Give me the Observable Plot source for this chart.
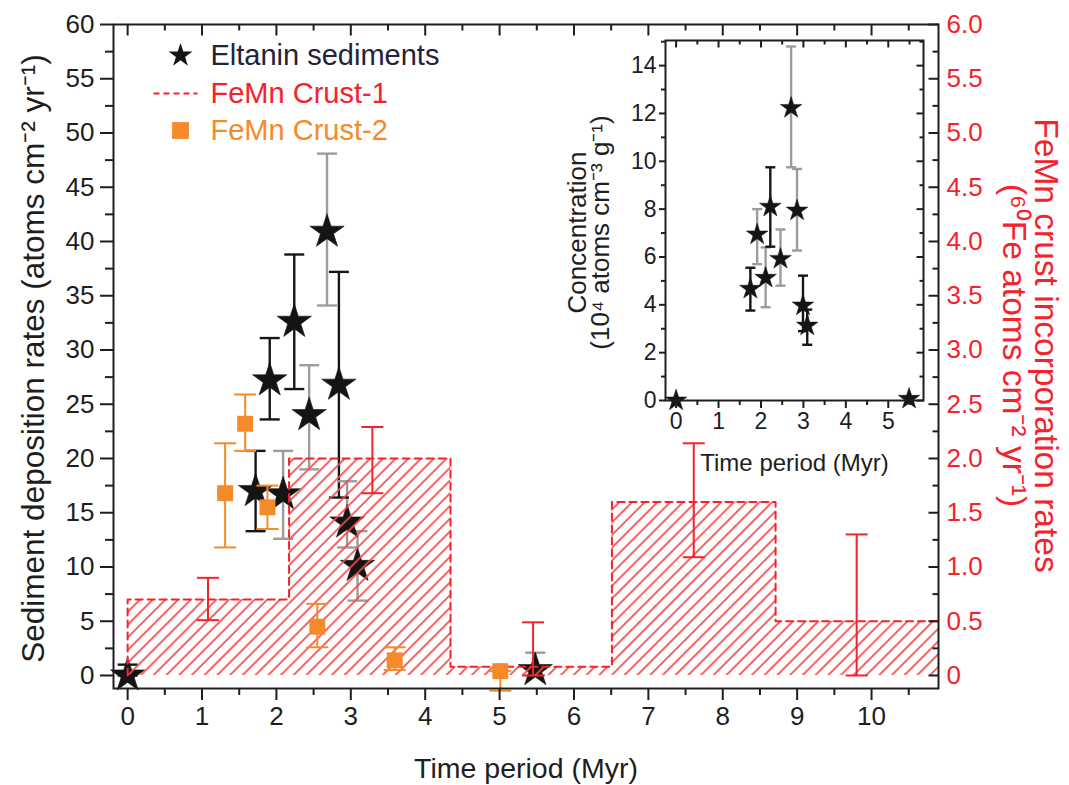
<!DOCTYPE html>
<html>
<head>
<meta charset="utf-8">
<script src="https://cdn.jsdelivr.net/npm/d3@7"></script>
<script src="https://cdn.jsdelivr.net/npm/@observablehq/plot@0.6"></script>
<style>
  html, body { margin: 0; padding: 0; background: #fff; }
  #wrap { position: relative; width: 1069px; height: 785px; overflow: hidden; font-family: "Liberation Sans", Arial, sans-serif; }
  #main, #inset { position: absolute; }
  #main { left: 0; top: 0; }
  #inset { left: 560px; top: 30px; }
</style>
</head>
<body>
<div id="wrap"><div id="main"></div><div id="inset"></div></div>
<script>
// ---------------- DATA ----------------
// Eltanin sediments: deposition rates (atoms cm^-2 yr^-1)
const eltX    = [0, 1.72, 1.91, 2.09, 2.24, 2.44, 2.68, 2.84, 2.95, 3.09, 5.48];
const eltY    = [0, 17.0, 27.2, 16.7, 32.6, 24.0, 40.9, 26.8, 14.1, 10.1, 0.5];
const eltLo   = [0, 13.3, 23.6, 12.6, 26.4, 19.0, 34.1, 16.4, 11.8, 6.9, 0];
const eltHi   = [1.0, 20.7, 31.1, 20.7, 38.8, 28.6, 48.1, 37.2, 17.9, 13.3, 2.1];
const eltTone = ["black","black","black","gray","black","gray","gray","black","gray","gray","gray"];

// FeMn Crust-1: incorporation rates (right axis units), step intervals
const c1Start = [0, 2.17, 4.34, 6.51, 8.71];
const c1End   = [2.17, 4.34, 6.51, 8.71, 10.9];
const c1Rate  = [0.70, 2.00, 0.08, 1.60, 0.50];
const c1ErrX  = [1.08, 3.29, 5.45, 7.61, 9.80];
const c1ErrLo = [0.51, 1.68, 0.00, 1.09, 0.00];
const c1ErrHi = [0.90, 2.29, 0.49, 2.14, 1.30];

// FeMn Crust-2 (left axis units)
const c2X  = [1.31, 1.58, 1.88, 2.55, 3.59, 5.01];
const c2Y  = [16.8, 23.2, 15.5, 4.5, 1.4, 0.4];
const c2Lo = [11.8, 20.7, 13.5, 2.6, 0.5, -1.4];
const c2Hi = [21.4, 25.9, 17.5, 6.6, 2.6, 0.4];

// Inset: concentration (10^4 atoms cm^-3 g^-1)
const insX    = [0, 1.75, 1.91, 2.11, 2.22, 2.46, 2.71, 2.85, 2.99, 3.09, 5.49];
const insY    = [0, 4.67, 6.94, 5.13, 8.10, 5.92, 12.23, 7.94, 3.97, 3.13, 0.07];
const insLo   = [0, 3.76, 5.70, 3.90, 6.43, 4.80, 9.75, 6.27, 2.90, 2.33, 0];
const insHi   = [0, 5.55, 8.00, 6.40, 9.75, 7.15, 14.80, 9.68, 5.22, 3.80, 0];
const insTone = ["black","black","gray","gray","black","gray","gray","gray","black","black","black"];

// Ticks and labels
const mainXTicks = [0,1,2,3,4,5,6,7,8,9,10];
const mainXMinor = [0.5,1.5,2.5,3.5,4.5,5.5,6.5,7.5,8.5,9.5,10.5];
const mainYTicks = [0,5,10,15,20,25,30,35,40,45,50,55,60];
const mainYMinor = [2.5,7.5,12.5,17.5,22.5,27.5,32.5,37.5,42.5,47.5,52.5,57.5];
const rightLabels = ["0","0.5","1.0","1.5","2.0","2.5","3.0","3.5","4.0","4.5","5.0","5.5","6.0"];
const insXTicks = [0,1,2,3,4,5];
const insXMinor = [0.5,1.5,2.5,3.5,4.5,5.5];
const insYTicks = [0,2,4,6,8,10,12,14];
const insYMinor = [1,3,5,7,9,11,13,15];

const xTitle = "Time period (Myr)";
const leftTitle = "Sediment deposition rates (atoms cm\u207B\u00B2 yr\u207B\u00B9)";
const rightTitle = "FeMn crust incorporation rates\n(\u2076\u2070Fe atoms cm\u207B\u00B2 yr\u207B\u00B9)";
const insYTitle = "Concentration\n(10\u2074 atoms cm\u207B\u00B3 g\u207B\u00B9)";
const legendLabels = ["Eltanin sediments", "FeMn Crust-1", "FeMn Crust-2"];

// ---------------- STYLE ----------------
const FONT = "'Liberation Sans', Arial, Helvetica, sans-serif";
const INK = "#1e1e1e";
const RED = "#f5222d";
const ORANGE = "#f48a2a";
const GRAY = "#9c9c9c";
const HATCH_SENTINEL = "#fe0102";
const toneColor = t => t === "gray" ? GRAY : "#161616";

// custom symbols
const capSym   = {draw(ctx, s){ const r = Math.sqrt(s/Math.PI); ctx.moveTo(-r,0); ctx.lineTo(r,0); }};
const tickDown = {draw(ctx, s){ const r = Math.sqrt(s/Math.PI); ctx.moveTo(0,0); ctx.lineTo(0,r); }};
const tickLeft = {draw(ctx, s){ const r = Math.sqrt(s/Math.PI); ctx.moveTo(0,0); ctx.lineTo(-r,0); }};

// ---------------- TABLES ----------------
const elt = eltX.map((x,i) => ({x, y: eltY[i], lo: eltLo[i], hi: eltHi[i], c: toneColor(eltTone[i])}));
const eltBars = elt.filter(d => d.hi > d.lo);
const c1Steps = c1Start.map((s,i) => ({x1: s, x2: c1End[i], y: c1Rate[i]*10}));
const c1Line = [{x: c1Start[0], y: 0}, ...c1Steps.map(d => ({x: d.x1, y: d.y})), {x: c1End[c1End.length-1], y: c1Rate[c1Rate.length-1]*10}];
const c1Err = c1ErrX.map((x,i) => ({x, lo: c1ErrLo[i]*10, hi: c1ErrHi[i]*10}));
const c2 = c2X.map((x,i) => ({x, y: c2Y[i], lo: c2Lo[i], hi: c2Hi[i]}));
const ins = insX.map((x,i) => ({x, y: insY[i], lo: insLo[i], hi: insHi[i], c: toneColor(insTone[i])}));
const insBars = ins.filter(d => d.hi > d.lo);
const rightLabelMap = new Map(mainYTicks.map((v,i) => [v, rightLabels[i]]));

function errMarks(data, stroke, sw, capR) {
  const s = typeof stroke === "function" ? stroke : () => stroke;
  return [
    Plot.ruleX(data, {x: "x", y1: "lo", y2: "hi", stroke: s, strokeWidth: sw}),
    Plot.dot(data, {x: "x", y: "hi", symbol: capSym, r: capR, stroke: s, strokeWidth: sw, fill: "none"}),
    Plot.dot(data, {x: "x", y: "lo", symbol: capSym, r: capR, stroke: s, strokeWidth: sw, fill: "none"})
  ];
}

// ---------------- MAIN ----------------
const main = Plot.plot({
  width: 1069, height: 785,
  marginLeft: 113, marginRight: 131, marginTop: 24, marginBottom: 97,
  x: {domain: [-0.19, 10.9], axis: null},
  y: {domain: [-1.2, 60], axis: null},
  style: {fontFamily: FONT, background: "transparent", overflow: "visible"},
  marks: [
    // Eltanin
    ...errMarks(eltBars, d => d.c, 2.4, 10),
    Plot.dot(elt, {x: "x", y: "y", symbol: "star", r: 10.8, fill: "#141414", stroke: "#141414", strokeWidth: 0.6}),
    // Crust-1 hatched steps
    Plot.rect(c1Steps, {x1: "x1", x2: "x2", y1: 0, y2: "y", fill: HATCH_SENTINEL}),
    Plot.line(c1Line, {x: "x", y: "y", curve: "step-after", stroke: RED, strokeWidth: 2, strokeDasharray: "7,5"}),
    ...errMarks(c1Err, RED, 2, 11),
    // Crust-2
    ...errMarks(c2, ORANGE, 2, 11),
    Plot.dot(c2, {x: "x", y: "y", symbol: "square", r: 9, fill: ORANGE, stroke: "none"}),
    // frame & axes
    Plot.frame({stroke: INK, strokeWidth: 2}),
    Plot.axisX(mainXTicks, {tickSize: 12, tickPadding: 6, fontSize: 26, strokeWidth: 2, color: INK, label: null}),
    Plot.axisX(mainXMinor.filter(v => v < 10.9), {tickSize: 7, tickFormat: () => "", strokeWidth: 2, color: INK, label: null}),
    Plot.axisY(mainYTicks, {tickSize: 13, tickPadding: 6, fontSize: 26, strokeWidth: 2, color: INK, label: null}),
    Plot.axisY(mainYMinor, {tickSize: 8, tickFormat: () => "", strokeWidth: 2, color: INK, label: null}),
    Plot.axisY(mainYTicks, {anchor: "right", tickSize: 0, tickPadding: 8, fontSize: 26, color: RED, label: null,
      tickFormat: d => rightLabelMap.get(d)}),
    Plot.dot(mainXTicks, {x: d => d, frameAnchor: "top", symbol: tickDown, r: 11, stroke: INK, strokeWidth: 2, fill: "none"}),
    Plot.dot(mainXMinor.filter(v => v < 10.9), {x: d => d, frameAnchor: "top", symbol: tickDown, r: 6, stroke: INK, strokeWidth: 2, fill: "none"}),
    Plot.dot(mainYTicks, {y: d => d, frameAnchor: "right", symbol: tickLeft, r: 10, stroke: INK, strokeWidth: 2, fill: "none"}),
    Plot.dot(mainYMinor, {y: d => d, frameAnchor: "right", symbol: tickLeft, r: 6, stroke: INK, strokeWidth: 2, fill: "none"}),
    // titles
    Plot.text([xTitle], {text: d => d, frameAnchor: "bottom", dy: 80, fontSize: 28.5, fill: INK, textAnchor: "middle", lineAnchor: "middle"}),
    Plot.text([leftTitle], {text: d => d, frameAnchor: "left", dx: -80, dy: 2, rotate: -90, fontSize: 31.5, fill: INK, textAnchor: "middle", lineAnchor: "middle"}),
    Plot.text([rightTitle], {text: d => d, frameAnchor: "right", dx: 91, dy: -11, rotate: 90, fontSize: 33.5, lineHeight: 0.96, fill: RED, textAnchor: "middle", lineAnchor: "middle"}),
    // legend
    Plot.dot([legendLabels[0]], {frameAnchor: "top-left", dx: 67, dy: 31, symbol: "star", r: 7.5, fill: "#141414"}),
    Plot.dot([legendLabels[1]], {frameAnchor: "top-left", dx: 62, dy: 69, symbol: capSym, r: 22, stroke: RED, strokeWidth: 2, strokeDasharray: "6,4", fill: "none"}),
    Plot.dot([legendLabels[2]], {frameAnchor: "top-left", dx: 67, dy: 106, symbol: "square", r: 9.5, fill: ORANGE}),
    Plot.text([legendLabels[0]], {text: d => d, frameAnchor: "top-left", dx: 97, dy: 31, fontSize: 29, fill: "#22223a", textAnchor: "start", lineAnchor: "middle"}),
    Plot.text([legendLabels[1]], {text: d => d, frameAnchor: "top-left", dx: 97, dy: 69, fontSize: 29, fill: RED, textAnchor: "start", lineAnchor: "middle"}),
    Plot.text([legendLabels[2]], {text: d => d, frameAnchor: "top-left", dx: 97, dy: 106, fontSize: 29, fill: ORANGE, textAnchor: "start", lineAnchor: "middle"})
  ]
});

// hatch pattern
const msvg = d3.select(main);
msvg.insert("defs", ":first-child").html(
  `<pattern id="hatch" patternUnits="userSpaceOnUse" width="9" height="9" patternTransform="rotate(45)">
     <line x1="1" y1="0" x2="1" y2="9" stroke="#f54848" stroke-width="1.7"/>
   </pattern>`);
msvg.selectAll(`[fill="${HATCH_SENTINEL}"]`).attr("fill", "url(#hatch)");
document.getElementById("main").appendChild(main);

// ---------------- INSET ----------------
const inset = Plot.plot({
  width: 380, height: 460,
  marginLeft: 105, marginRight: 17, marginTop: 10, marginBottom: 90,
  x: {domain: [-0.25, 5.83], axis: null},
  y: {domain: [0, 15.05], axis: null},
  style: {fontFamily: FONT, background: "transparent", overflow: "visible"},
  marks: [
    ...errMarks(insBars, d => d.c, 2.4, 5),
    Plot.dot(ins, {x: "x", y: "y", symbol: "star", r: 6.8, fill: "#141414", stroke: "#141414", strokeWidth: 0.5}),
    Plot.frame({stroke: INK, strokeWidth: 2}),
    Plot.axisX(insXTicks, {tickSize: 8, tickPadding: 4, fontSize: 23, strokeWidth: 2, color: INK, label: null}),
    Plot.axisX(insXMinor.filter(v => v < 5.83), {tickSize: 5, tickFormat: () => "", strokeWidth: 2, color: INK, label: null}),
    Plot.axisY(insYTicks, {tickSize: 6, tickPadding: 3, fontSize: 23, strokeWidth: 2, color: INK, label: null}),
    Plot.axisY(insYMinor.filter(v => v < 15.05), {tickSize: 4, tickFormat: () => "", strokeWidth: 2, color: INK, label: null}),
    Plot.dot(insXTicks, {x: d => d, frameAnchor: "top", symbol: tickDown, r: 7, stroke: INK, strokeWidth: 2, fill: "none"}),
    Plot.dot(insXMinor.filter(v => v < 5.83), {x: d => d, frameAnchor: "top", symbol: tickDown, r: 4, stroke: INK, strokeWidth: 2, fill: "none"}),
    Plot.dot(insYTicks, {y: d => d, frameAnchor: "right", symbol: tickLeft, r: 7, stroke: INK, strokeWidth: 2, fill: "none"}),
    Plot.dot(insYMinor.filter(v => v < 15.05), {y: d => d, frameAnchor: "right", symbol: tickLeft, r: 4, stroke: INK, strokeWidth: 2, fill: "none"}),
    Plot.text([xTitle], {text: d => d, frameAnchor: "bottom", dy: 63, fontSize: 24, fill: INK, textAnchor: "middle", lineAnchor: "middle"}),
    Plot.text([insYTitle], {text: d => d, frameAnchor: "left", dx: -75, dy: 12, rotate: -90, fontSize: 26, lineHeight: 0.88, fill: INK, textAnchor: "middle", lineAnchor: "middle"})
  ]
});
document.getElementById("inset").appendChild(inset);
</script>
</body>
</html>
